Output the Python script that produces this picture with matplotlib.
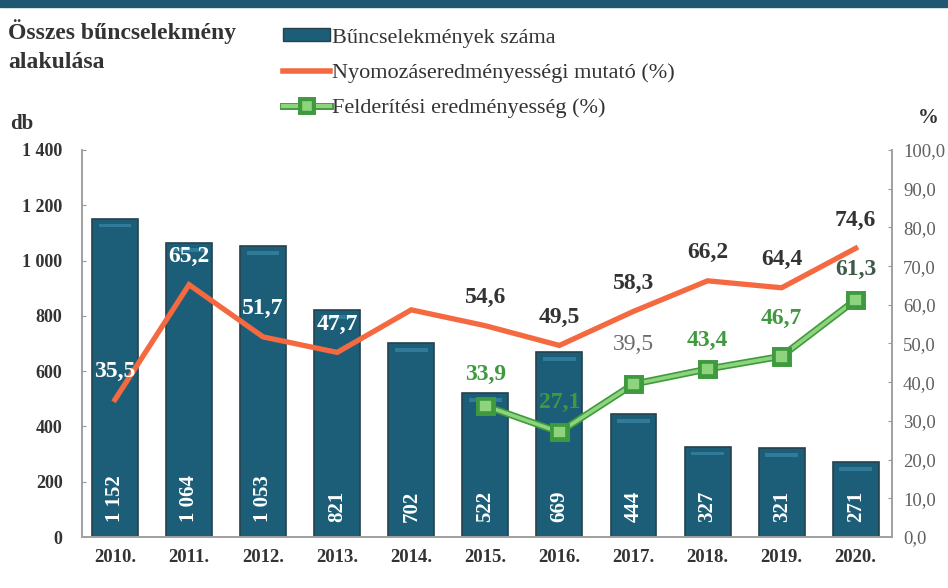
import matplotlib.pyplot as plt
import matplotlib.patheffects as pe
from matplotlib.patches import Patch, Rectangle
from matplotlib.lines import Line2D

plt.rcParams['font.family'] = ['Liberation Serif', 'DejaVu Serif']

years = ['2010.', '2011.', '2012.', '2013.', '2014.', '2015.', '2016.', '2017.', '2018.', '2019.', '2020.']
crimes = [1152, 1064, 1053, 821, 702, 522, 669, 444, 327, 321, 271]
crime_labels = ['1 152', '1 064', '1 053', '821', '702', '522', '669', '444', '327', '321', '271']
nyomozas = [35.5, 65.2, 51.7, 47.7, 58.7, 54.6, 49.5, 58.3, 66.2, 64.4, 74.6]
nyomozas_labels = ['35,5', '65,2', '51,7', '47,7', None, '54,6', '49,5', '58,3', '66,2', '64,4', '74,6']
felderites = [33.9, 27.1, 39.5, 43.4, 46.7, 61.3]
felderites_labels = ['33,9', '27,1', '39,5', '43,4', '46,7', '61,3']
felderites_start = 5

left_ticks = [0, 200, 400, 600, 800, 1000, 1200, 1400]
left_tick_labels = ['0', '200', '400', '600', '800', '1 000', '1 200', '1 400']
right_ticks = [0, 10, 20, 30, 40, 50, 60, 70, 80, 90, 100]
right_tick_labels = ['0,0', '10,0', '20,0', '30,0', '40,0', '50,0', '60,0', '70,0', '80,0', '90,0', '100,0']

bar_color = '#1c5e78'
bar_edge = '#26424d'
red = '#f4693f'
green_light = '#8ed47c'
green_dark = '#3f9a3f'
txt = '#333333'

fig = plt.figure(figsize=(9.48, 5.88), dpi=100)
ax = fig.add_axes([82 / 948, 1 - 537 / 588, (892 - 82) / 948, (537 - 150) / 588])
ax2 = ax.twinx()

x = list(range(len(years)))
ax.bar(x, crimes, width=0.62, color=bar_color, edgecolor=bar_edge, linewidth=1.2, zorder=2)
# light stripe near the top of each bar
ax.bar(x, [14] * len(x), bottom=[c - 32 for c in crimes], width=0.44,
       color='#3f93b5', alpha=0.55, linewidth=0, zorder=2.5)

for i, lab in enumerate(crime_labels):
    ax.annotate(lab, (i, 0), xytext=(0, 15), textcoords='offset pixels',
                rotation=90, ha='center', va='bottom', color='white',
                fontsize=15, fontweight='bold', zorder=5)

ax.set_xlim(-0.445, 10.49)
ax.set_ylim(0, 1400)
ax.set_yticks(left_ticks)
ax.set_yticklabels(left_tick_labels, fontsize=13, fontweight='bold', color=txt)
ax.set_xticks(x)
ax.set_xticklabels(years, fontsize=13.5, fontweight='bold', color=txt)
ax.tick_params(axis='x', length=0, pad=9)
ax.tick_params(axis='y', length=3, direction='in', color='#999999', pad=14)

ax2.set_ylim(0, 100)
ax2.set_yticks(right_ticks)
ax2.set_yticklabels(right_tick_labels, fontsize=13.5, color='#606060')
ax2.tick_params(axis='y', length=3, direction='in', color='#999999', pad=8)

for a in (ax, ax2):
    a.spines['top'].set_visible(False)
    for s in ('left', 'right', 'bottom'):
        a.spines[s].set_color('#a0a0a0')
        a.spines[s].set_linewidth(1.2)

ax2.plot(x, nyomozas, color=red, linewidth=3.8, solid_joinstyle='miter', zorder=3)
xf = x[felderites_start:]
ax2.plot(xf, felderites, color=green_light, linewidth=2.6, marker='s', markersize=9,
         markerfacecolor=green_light, markeredgecolor=green_dark, markeredgewidth=1.2,
         path_effects=[pe.Stroke(linewidth=5, foreground=green_dark), pe.Normal()], zorder=4)

ax.set_zorder(1)
ax2.set_zorder(2)
ax.patch.set_visible(False)

for i, lab in enumerate(nyomozas_labels):
    if lab is None:
        continue
    col = 'white' if i < 4 else txt
    ax2.annotate(lab, (i, nyomozas[i]), xytext=(0, 28), textcoords='offset pixels',
                 ha='center', va='center', color=col, fontsize=17, fontweight='bold', zorder=6)

green_cols = [green_dark, green_dark, '#6b6b6b', green_dark, green_dark, '#3d5a4a']
green_off = [31, 30, 40, 29, 38, 30]
for j, lab in enumerate(felderites_labels):
    ax2.annotate(lab, (xf[j], felderites[j]), xytext=(0, green_off[j]), textcoords='offset pixels',
                 ha='center', va='center', color=green_cols[j], fontsize=17,
                 fontweight='bold' if j != 2 else 'normal', zorder=6)

# titles and unit labels
fig.text(8 / 948, 1 - 32 / 588, 'Összes bűncselekmény', fontsize=17, fontweight='bold', color=txt, va='center')
fig.text(8 / 948, 1 - 62 / 588, 'alakulása', fontsize=17, fontweight='bold', color=txt, va='center')
fig.text(10 / 948, 1 - 124 / 588, 'db', fontsize=15, fontweight='bold', color=txt, va='center')
fig.text(928 / 948, 1 - 118 / 588, '%', fontsize=15, fontweight='bold', color=txt, va='center', ha='center')

# top band
fig.patches.append(Rectangle((0, 1 - 7 / 588), 1, 7 / 588, transform=fig.transFigure,
                             color='#1f5670', zorder=0))

handles = [
    Patch(facecolor=bar_color, edgecolor=bar_edge),
    Line2D([], [], color=red, linewidth=4),
    Line2D([], [], color=green_light, linewidth=3, marker='s', markersize=8,
           markerfacecolor=green_light, markeredgecolor=green_dark,
           path_effects=[pe.Stroke(linewidth=5, foreground=green_dark), pe.Normal()]),
]
labels = ['Bűncselekmények száma', 'Nyomozáseredményességi mutató (%)', 'Felderítési eredményesség (%)']
leg = fig.legend(handles, labels, loc='upper left', bbox_to_anchor=(283 / 948, 1 - 28 / 588),
                 frameon=False, fontsize=16, handlelength=2.1, handleheight=0.55,
                 handletextpad=0.1, labelspacing=0.7, borderpad=0, borderaxespad=0)
for t in leg.get_texts():
    t.set_color(txt)

fig.savefig('out.png', dpi=100)
